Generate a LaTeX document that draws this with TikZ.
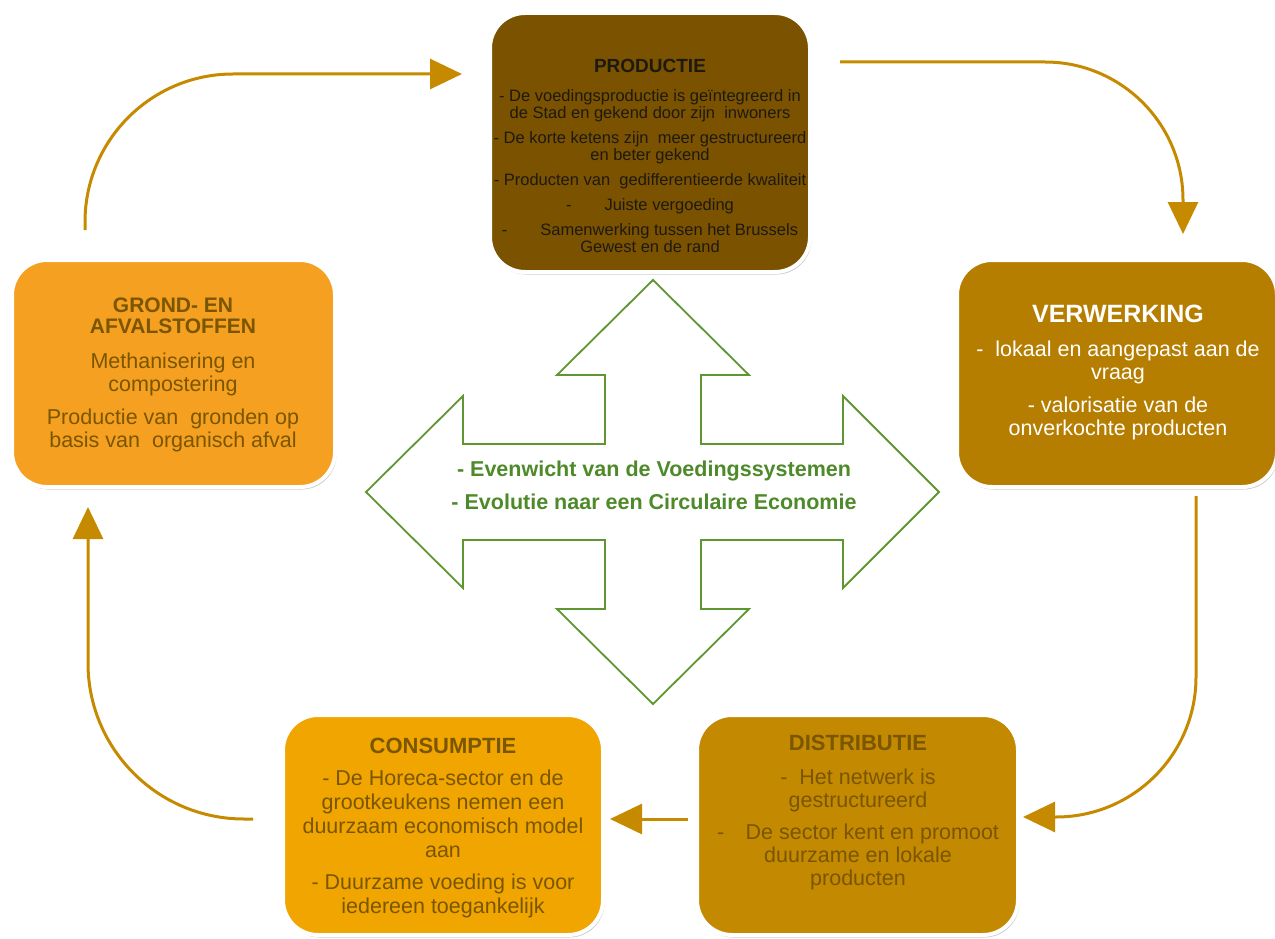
\documentclass[tikz,border=0pt]{standalone}
\usepackage{fontspec}
\setmainfont{Liberation Sans}
\usetikzlibrary{arrows.meta,shadows}
\definecolor{cprod}{HTML}{7A5200}
\definecolor{cgrond}{HTML}{F5A020}
\definecolor{cverw}{HTML}{B67E00}
\definecolor{ccons}{HTML}{F0A500}
\definecolor{cdist}{HTML}{C38900}
\definecolor{cbrown}{HTML}{7A5600}
\definecolor{cdark}{HTML}{1E1A10}
\definecolor{conn}{HTML}{C68A00}
\definecolor{cgreen}{HTML}{5E9632}
\definecolor{cgtext}{HTML}{4E8A2A}
\begin{document}
\begin{tikzpicture}[x=1pt,y=-1pt,
  box/.style={rounded corners=35pt, draw=white, line width=4pt, inner sep=0pt,
    drop shadow={shadow xshift=1.5pt, shadow yshift=-2.5pt, opacity=0.35, fill=black!60}},
  ttl/.style={anchor=base, align=center, font=\bfseries\fontsize{21}{22}\selectfont},
  txt/.style={anchor=base, align=center, font=\fontsize{21.5}{23}\selectfont},
  conn/.style={draw=conn, line width=3pt, -{Triangle[length=32pt,width=30pt]}},
]
\useasboundingbox (0,0) rectangle (1275,939);

% boxes
\node[box, fill=cprod, minimum width=320pt, minimum height=259pt] (prod) at (650,142.5) {};
\node[box, fill=cgrond, minimum width=323pt, minimum height=227pt] (grond) at (173.5,373.5) {};
\node[box, fill=cverw, minimum width=320pt, minimum height=227pt] (verw) at (1117,373.5) {};
\node[box, fill=ccons, minimum width=320pt, minimum height=220pt] (cons) at (443,825) {};
\node[box, fill=cdist, minimum width=321pt, minimum height=220pt] (dist) at (857.5,825) {};

% texts (anchor=base is the baseline of the last line)
\node[ttl, text=cdark, font=\bfseries\fontsize{19}{19}\selectfont] (prodT) at (650,73) {PRODUCTIE};
\node[txt, text=cdark, font=\fontsize{16.5}{17}\selectfont] (prodB) at (650,252) {%
- De voedingsproductie is geïntegreerd in\\ de Stad en gekend door zijn\ \ inwoners\\[8pt]
- De korte ketens zijn\ \ meer gestructureerd\\ en beter gekend\\[8pt]
- Producten van\ \ gedifferentieerde kwaliteit\\[8pt]
-\hspace{2em}Juiste vergoeding\\[8pt]
-\hspace{2em}Samenwerking tussen het Brussels\\ Gewest en de rand};

\node[ttl, text=cbrown, font=\bfseries\fontsize{21}{21}\selectfont] (grondT) at (173,333) {GROND- EN\\AFVALSTOFFEN};
\node[txt, text=cbrown, font=\fontsize{21.5}{22.5}\selectfont] (grondB) at (173,447) {Methanisering en\\ compostering\\[11pt] Productie van\ \ gronden op\\ basis van\ \ organisch afval};

\node[ttl, text=white, font=\bfseries\fontsize{25}{25}\selectfont] (verwT) at (1118,322) {VERWERKING};
\node[txt, text=white] (verwB) at (1118,435) {-\ \ lokaal en aangepast aan de\\ vraag\\[10pt] - valorisatie van\ de\\ onverkochte producten};

\node[ttl, text=cbrown, font=\bfseries\fontsize{22}{22}\selectfont] (consT) at (443,753) {CONSUMPTIE};
\node[txt, text=cbrown, font=\fontsize{21.5}{24}\selectfont] (consB) at (443,913) {- De Horeca-sector en de\\ grootkeukens nemen een\\ duurzaam economisch model\\ aan\\[8pt] - Duurzame voeding is voor\\ iedereen toegankelijk};

\node[ttl, text=cbrown, font=\bfseries\fontsize{22}{22}\selectfont] (distT) at (858,750) {DISTRIBUTIE};
\node[txt, text=cbrown, font=\fontsize{21.5}{23}\selectfont] (distB) at (858,885) {-\ \ Het netwerk is\\ gestructureerd\\[9pt] -\hspace{1em}De sector kent en promoot\\ duurzame en lokale\\ producten};

% central four-way arrow
\begin{scope}[shift={(653,492)}]
\draw[cgreen, line width=1.8pt, fill=white, line join=miter]
  (0,-212) -- (96,-117) -- (48,-117) -- (48,-48) -- (190,-48) -- (190,-96) -- (286,0)
  -- (190,96) -- (190,48) -- (48,48) -- (48,117) -- (96,117) -- (0,212)
  -- (-96,117) -- (-48,117) -- (-48,48) -- (-190,48) -- (-190,96) -- (-287,0)
  -- (-190,-96) -- (-190,-48) -- (-48,-48) -- (-48,-117) -- (-96,-117) -- cycle;
\end{scope}
\node[anchor=base, align=center, text=cgtext, font=\bfseries\fontsize{21.5}{33}\selectfont] (mid) at (654,509) {- Evenwicht van de Voedingssystemen\\ - Evolutie naar een Circulaire Economie};

% connectors
\coordinate (a1s) at (85,230);   \coordinate (a1e) at (462,74);
\coordinate (a2s) at (840,62);   \coordinate (a2e) at (1183,234);
\coordinate (a3s) at (1196,496); \coordinate (a3e) at (1023,817);
\coordinate (a4s) at (688,819);  \coordinate (a4e) at (610,819);
\coordinate (a5s) at (253,819);  \coordinate (a5e) at (88,507);
\draw[conn, rounded corners=148pt] (a1s) |- (a1e);
\draw[conn, rounded corners=138pt] (a2s) -| (a2e);
\draw[conn, rounded corners=140pt] (a3s) |- (a3e);
\draw[conn] (a4s) -- (a4e);
\draw[conn, rounded corners=156pt] (a5s) -| (a5e);
\end{tikzpicture}
\end{document}
